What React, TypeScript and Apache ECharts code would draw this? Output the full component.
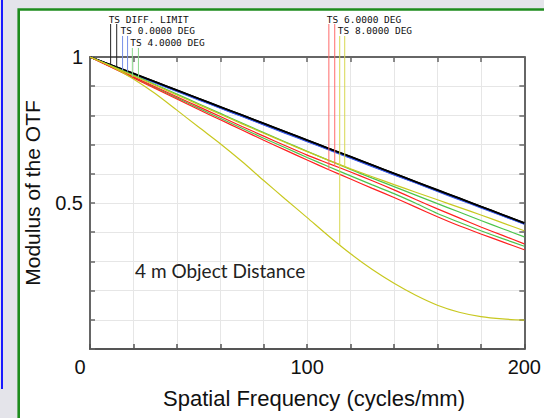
import React, { useEffect, useRef } from 'react';
import * as echarts from 'echarts';

// Spatial frequency samples (cycles/mm)
const freq = [0, 10, 20, 30, 40, 50, 60, 70, 80, 90, 100, 110, 120, 130, 140, 150, 160, 170, 180, 190, 200];

// Modulus of the OTF
const diffT = [1, 0.972, 0.944, 0.915, 0.887, 0.858, 0.830, 0.801, 0.773, 0.744, 0.716, 0.687, 0.659, 0.630, 0.602, 0.573, 0.545, 0.517, 0.488, 0.460, 0.432];
const diffS = [1, 0.972, 0.943, 0.915, 0.886, 0.858, 0.829, 0.801, 0.772, 0.744, 0.715, 0.687, 0.658, 0.630, 0.601, 0.573, 0.544, 0.516, 0.488, 0.460, 0.431];
const deg0T = [1, 0.970, 0.941, 0.912, 0.883, 0.854, 0.825, 0.797, 0.768, 0.739, 0.711, 0.682, 0.654, 0.625, 0.597, 0.569, 0.540, 0.512, 0.484, 0.456, 0.428];
const deg0S = [1, 0.971, 0.942, 0.913, 0.884, 0.855, 0.826, 0.798, 0.769, 0.741, 0.712, 0.684, 0.655, 0.627, 0.598, 0.570, 0.542, 0.514, 0.486, 0.457, 0.429];
const deg4T = [1, 0.965, 0.930, 0.895, 0.860, 0.825, 0.790, 0.756, 0.722, 0.689, 0.656, 0.624, 0.593, 0.562, 0.532, 0.499, 0.464, 0.434, 0.405, 0.378, 0.352];
const deg4S = [1, 0.969, 0.938, 0.906, 0.873, 0.840, 0.807, 0.774, 0.741, 0.709, 0.677, 0.646, 0.615, 0.585, 0.556, 0.527, 0.498, 0.469, 0.440, 0.412, 0.384];
const deg6T = [1, 0.964, 0.928, 0.892, 0.856, 0.820, 0.785, 0.750, 0.715, 0.681, 0.647, 0.614, 0.582, 0.550, 0.519, 0.486, 0.453, 0.422, 0.394, 0.367, 0.340];
const deg6S = [1, 0.966, 0.932, 0.898, 0.864, 0.830, 0.796, 0.762, 0.729, 0.696, 0.664, 0.635, 0.606, 0.576, 0.545, 0.512, 0.480, 0.449, 0.418, 0.389, 0.360];
const deg8T = [1, 0.967, 0.925, 0.875, 0.818, 0.760, 0.703, 0.642, 0.577, 0.513, 0.450, 0.386, 0.326, 0.272, 0.225, 0.184, 0.150, 0.126, 0.111, 0.103, 0.099];
const deg8S = [1, 0.968, 0.936, 0.903, 0.870, 0.837, 0.804, 0.771, 0.739, 0.707, 0.676, 0.646, 0.617, 0.590, 0.563, 0.537, 0.511, 0.485, 0.459, 0.432, 0.405];

const fieldLabels = ['TS DIFF. LIMIT', 'TS 0.0000 DEG', 'TS 4.0000 DEG', 'TS 6.0000 DEG', 'TS 8.0000 DEG'];
const fieldColors = ['#000000', '#3a5ae8', '#4cc44c', '#ff2020', '#c8c820'];
const leaderColors = ['#222222', '#7890e8', '#8cd88c', '#ff6a6a', '#d8d850'];
const fieldCurves = [[diffT, diffS], [deg0T, deg0S], [deg4T, deg4S], [deg6T, deg6S], [deg8T, deg8S]];
// Legend leader lines: frequency of the T and S leaders, and the value where each leader starts (above the plot)
const leaderFreqT = [9.5, 15, 19.5, 110, 115];
const leaderFreqS = [12.3, 17.3, 22.3, 112.7, 117.3];
const leaderTop = [1.113, 1.072, 1.031, 1.113, 1.072];

const xTickLabels = [0, 100, 200];
const yTickLabels = [0.5, 1];

const FONT = '"Liberation Sans", Arial, sans-serif';

function valueAt(curve: number[], f: number): number {
  for (let i = 0; i < freq.length - 1; i++) {
    if (f >= freq[i] && f <= freq[i + 1]) {
      const t = (f - freq[i]) / (freq[i + 1] - freq[i]);
      return curve[i] + t * (curve[i + 1] - curve[i]);
    }
  }
  return curve[curve.length - 1];
}

export default function App() {
  const ref = useRef<HTMLDivElement>(null);
  useEffect(() => {
    if (!ref.current) return;
    const chart = echarts.init(ref.current, undefined, { renderer: 'svg' });

    const lineSeries: any[] = [];
    // blue before black so the black diffraction curve sits on top
    const order = [1, 0, 2, 3, 4];
    order.forEach((fi) => {
      ['T', 'S'].forEach((ts, k) => {
        lineSeries.push({
          type: 'line',
          name: fieldLabels[fi] + ' ' + ts,
          data: freq.map((f, i) => [f, fieldCurves[fi][k][i]]),
          showSymbol: false,
          symbol: 'none',
          smooth: 0.25,
          lineStyle: { color: fieldColors[fi], width: fi <= 1 ? 1.6 : 1.2 },
          itemStyle: { color: fieldColors[fi] },
          z: 3,
        });
      });
    });

    // leader lines as two-point line series (unclipped so they reach the labels above the plot)
    const leaderSeries: any[] = [];
    fieldLabels.forEach((label, i) => {
      const pairs: [number, number][] = [
        [leaderFreqT[i], valueAt(fieldCurves[i][0], leaderFreqT[i])],
        [leaderFreqS[i], valueAt(fieldCurves[i][1], leaderFreqS[i])],
      ];
      pairs.forEach(([f, v], k) => {
        leaderSeries.push({
          type: 'line',
          name: label + (k === 0 ? ' T leader' : ' S leader'),
          data: [[f, leaderTop[i]], [f, v]],
          clip: false,
          showSymbol: false,
          symbol: 'none',
          silent: true,
          lineStyle: { color: leaderColors[i], width: 1 },
          itemStyle: { color: leaderColors[i] },
          z: 4,
        });
      });
    });

    // label texts at the top of each leader pair
    const labelSeries = {
      type: 'custom',
      name: 'leader labels',
      clip: false,
      z: 5,
      encode: { x: 0, y: 1 },
      data: fieldLabels.map((_, i) => [leaderFreqT[i], leaderTop[i], i]),
      renderItem: (params: any, api: any) => {
        const idx = api.value(2);
        const p = api.coord([api.value(0), api.value(1)]);
        return {
          type: 'text',
          x: p[0] - 2,
          y: p[1] - 5,
          style: {
            text: fieldLabels[idx],
            fill: '#111',
            font: '9.5px "DejaVu Sans Mono", monospace',
            align: 'left',
            verticalAlign: 'middle',
          },
        };
      },
    };

    const axisLineStyle = { color: '#666', width: 2 };

    const option: any = {
      animation: false,
      backgroundColor: '#e4e4ea',
      grid: { left: 90, right: 14, top: 57, bottom: 69, containLabel: false },
      xAxis: [
        {
          type: 'value', min: 0, max: 200, interval: 20, position: 'bottom',
          axisLine: { show: true, onZero: false, lineStyle: { color: '#555', width: 2 } },
          axisTick: { show: true, inside: true, length: 5, lineStyle: { color: '#555', width: 1.5 } },
          splitLine: { show: true, lineStyle: { color: '#e6e6e6', width: 1 } },
          axisLabel: {
            margin: 8,
            fontSize: 20,
            fontFamily: FONT,
            color: '#111',
            formatter: (v: number) => {
              if (!xTickLabels.includes(v)) return '';
              return v === 0 ? '{z|0}' : String(v);
            },
            rich: { z: { fontSize: 20, fontFamily: FONT, color: '#111', padding: [0, 20, 0, 0] } },
          },
        },
        {
          type: 'value', min: 0, max: 200, interval: 20, position: 'top',
          axisLine: { show: true, onZero: false, lineStyle: axisLineStyle },
          axisTick: { show: true, inside: true, length: 5, lineStyle: { color: '#666', width: 1.5 } },
          splitLine: { show: false },
          axisLabel: { show: false },
        },
      ],
      yAxis: [
        {
          type: 'value', min: 0, max: 1, interval: 0.1, position: 'left',
          axisLine: { show: true, onZero: false, lineStyle: axisLineStyle },
          axisTick: { show: true, inside: true, length: 5, lineStyle: { color: '#666', width: 1.5 } },
          splitLine: { show: true, lineStyle: { color: '#e6e6e6', width: 1 } },
          axisLabel: {
            margin: 7,
            fontSize: 20,
            fontFamily: FONT,
            color: '#111',
            formatter: (v: number) => {
              const hit = yTickLabels.find((t) => Math.abs(t - v) < 1e-6);
              return hit === undefined ? '' : String(hit);
            },
          },
        },
        {
          type: 'value', min: 0, max: 1, interval: 0.1, position: 'right',
          axisLine: { show: true, onZero: false, lineStyle: axisLineStyle },
          axisTick: { show: true, inside: true, length: 5, lineStyle: { color: '#666', width: 1.5 } },
          splitLine: { show: false },
          axisLabel: { show: false },
        },
      ],
      graphic: [
        { type: 'rect', z: -10, silent: true, shape: { x: 1, y: 0, width: 2, height: 389 }, style: { fill: '#1a1aff' } },
        { type: 'rect', z: -10, silent: true, shape: { x: 18.7, y: 9.5, width: 560, height: 430 }, style: { fill: '#ffffff', stroke: '#1e8c1e', lineWidth: 2.6 } },
        {
          type: 'text', z: 10, x: 32, y: 193, rotation: Math.PI / 2,
          style: { text: 'Modulus of the OTF', font: '21px ' + FONT, fill: '#111', align: 'center', verticalAlign: 'middle' },
        },
        {
          type: 'text', z: 10, x: 314, y: 398,
          style: { text: 'Spatial Frequency (cycles/mm)', font: '22px ' + FONT, fill: '#111', align: 'center', verticalAlign: 'middle' },
        },
        {
          type: 'text', z: 10, x: 135, y: 270,
          style: { text: '4 m Object Distance', font: '19px Lato, "Open Sans", sans-serif', fill: '#222', align: 'left', verticalAlign: 'middle' },
        },
      ],
      series: [...lineSeries, ...leaderSeries, labelSeries],
    };

    chart.setOption(option);
    return () => chart.dispose();
  }, []);

  return <div ref={ref} style={{ position: 'fixed', left: 0, top: 0, width: 544, height: 418 }} />;
}
